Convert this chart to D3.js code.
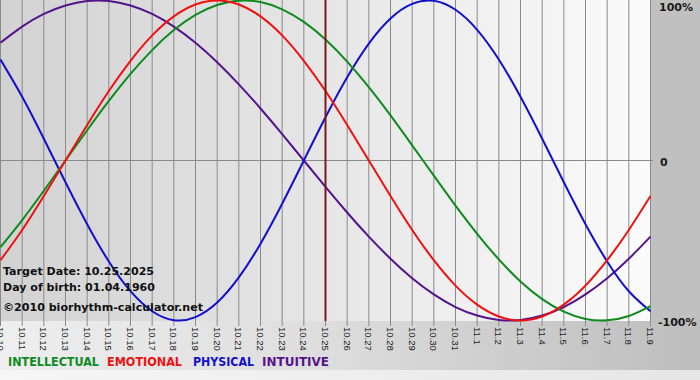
<!DOCTYPE html>
<html>
<head>
<meta charset="utf-8">
<script src="https://cdn.jsdelivr.net/npm/d3@7"></script>
<style>
html,body{margin:0;padding:0;background:#fff;}
svg{display:block;}
</style>
</head>
<body>
<svg id="chart" width="700" height="380"></svg>
<script>
// ---- data ----
const days = ["10.10","10.11","10.12","10.13","10.14","10.15","10.16","10.17","10.18","10.19","10.20","10.21","10.22","10.23","10.24","10.25","10.26","10.27","10.28","10.29","10.30","10.31","11.1","11.2","11.3","11.4","11.5","11.6","11.7","11.8","11.9"];
const intellectual = [-54.1,-37.2,-18.9,0,18.9,37.2,54.1,69.0,81.5,91.0,97.2,99.9,99.0,94.5,86.6,75.6,61.8,45.8,28.2,9.5,-9.5,-28.2,-45.8,-61.8,-75.6,-86.6,-94.5,-99.0,-99.9,-97.2,-91.0];
const emotional = [-62.3,-43.4,-22.2,0,22.2,43.4,62.3,78.2,90.1,97.5,100,97.5,90.1,78.2,62.3,43.4,22.2,0,-22.2,-43.4,-62.3,-78.2,-90.1,-97.5,-100,-97.5,-90.1,-78.2,-62.3,-43.4,-22.2];
const physical = [63.1,39.8,13.6,-13.6,-39.8,-63.1,-81.7,-94.2,-99.8,-97.9,-88.8,-73.1,-52.0,-27.0,0,27.0,52.0,73.1,88.8,97.9,99.8,94.2,81.7,63.1,39.8,13.6,-13.6,-39.8,-63.1,-81.7,-94.2];
const intuitive = [73.6,83.7,91.6,96.9,99.7,99.7,96.9,91.6,83.7,73.6,61.4,47.6,32.5,16.5,0,-16.5,-32.5,-47.6,-61.4,-73.6,-83.7,-91.6,-96.9,-99.7,-99.7,-96.9,-91.6,-83.7,-73.6,-61.4,-47.6];
const yTicks = [100, 0, -100];
const yTickLabels = ["100%", "0", "-100%"];
const targetDay = "10.25";
const infoLines = ["Target Date: 10.25.2025", "Day of birth: 01.04.1960", "©2010 biorhythm-calculator.net"];
const seriesNames = ["INTELLECTUAL", "EMOTIONAL", "PHYSICAL", "INTUITIVE"];

// ---- drawing ----
const svg = d3.select("#chart");
const W = 700, H = 380;
const plotL = 0, plotR = 651, plotT = 0, plotB = 321;
const colors = {INTELLECTUAL:"#0e8a1e", EMOTIONAL:"#ee1111", PHYSICAL:"#1111cc", INTUITIVE:"#55148c"};
const seriesData = {INTELLECTUAL:intellectual, EMOTIONAL:emotional, PHYSICAL:physical, INTUITIVE:intuitive};

const x = d3.scalePoint().domain(days).range([0.5, 650.5]);
const y = d3.scaleLinear().domain([-100, 100]).range([320.5, 0.5]);

const defs = svg.append("defs");
const g1 = defs.append("linearGradient").attr("id","plotbg").attr("x1","0").attr("x2","1").attr("y1","0").attr("y2","0");
g1.append("stop").attr("offset","0").attr("stop-color","#d2d2d2");
g1.append("stop").attr("offset","1").attr("stop-color","#fbfbfb");
const g2 = defs.append("linearGradient").attr("id","botbg").attr("x1","0").attr("x2","1").attr("y1","0").attr("y2","0");
g2.append("stop").attr("offset","0").attr("stop-color","#eeeeee");
g2.append("stop").attr("offset","0.45").attr("stop-color","#dedede");
g2.append("stop").attr("offset","1").attr("stop-color","#bdbdbd");
const g3 = defs.append("linearGradient").attr("id","btm2").attr("x1","0").attr("x2","1").attr("y1","0").attr("y2","0");
g3.append("stop").attr("offset","0").attr("stop-color","#f6f6f6");
g3.append("stop").attr("offset","1").attr("stop-color","#e6e6e6");
defs.append("clipPath").attr("id","clip").append("rect")
  .attr("x", plotL).attr("y", plotT).attr("width", plotR - plotL).attr("height", plotB - plotT + 1);

// backgrounds
svg.append("rect").attr("x",0).attr("y",0).attr("width",W).attr("height",H).attr("fill","#c0c0c0");
svg.append("rect").attr("x",0).attr("y",plotB).attr("width",W).attr("height",370-plotB).attr("fill","url(#botbg)");
svg.append("rect").attr("x",0).attr("y",370).attr("width",W).attr("height",H-370).attr("fill","url(#btm2)");
svg.append("rect").attr("x",plotL).attr("y",plotT).attr("width",plotR-plotL).attr("height",plotB-plotT).attr("fill","url(#plotbg)");

// vertical gridlines + ticks
const grid = svg.append("g");
grid.selectAll("line.v").data(days).join("line")
  .attr("x1", d => x(d)).attr("x2", d => x(d))
  .attr("y1", plotT).attr("y2", plotB + 5)
  .attr("stroke", "#8a8a8a").attr("stroke-width", 1);
// zero line
grid.append("line").attr("x1", plotL).attr("x2", plotR + 2)
  .attr("y1", y(0)).attr("y2", y(0)).attr("stroke", "#8a8a8a").attr("stroke-width", 1);

// curves
const line = d3.line().x((d, i) => x(days[i])).y(d => y(d)).curve(d3.curveNatural);
const curves = svg.append("g").attr("clip-path", "url(#clip)");
["INTUITIVE","PHYSICAL","INTELLECTUAL","EMOTIONAL"].forEach(name => {
  curves.append("path").datum(seriesData[name])
    .attr("d", line).attr("fill", "none")
    .attr("stroke", colors[name]).attr("stroke-width", 2)
    .attr("stroke-linejoin","round");
});

// target line
svg.append("line").attr("x1", x(targetDay)).attr("x2", x(targetDay))
  .attr("y1", plotT).attr("y2", plotB)
  .attr("stroke", "#7a1a1a").attr("stroke-width", 2);

// x tick labels (rotated)
svg.append("g").selectAll("text").data(days).join("text")
  .attr("transform", d => `translate(${x(d) - 3.5},327) rotate(90)`)
  .attr("font-family", "Liberation Sans, Arial, sans-serif")
  .attr("font-size", 9.5)
  .attr("fill", "#222")
  .text(d => d);

// y labels
svg.append("g").selectAll("text").data(yTicks).join("text")
  .attr("x", (d, i) => d === 0 ? 660 : (d > 0 ? 659 : 658))
  .attr("y", d => d === 100 ? 10.5 : (d === 0 ? 165.5 : 326))
  .attr("font-family", "DejaVu Sans, Verdana, sans-serif")
  .attr("font-weight", "bold")
  .attr("font-size", 11)
  .attr("fill", "#1a1a1a")
  .text((d, i) => yTickLabels[i]);

// info text
const infoY = [275, 291, 311];
const infoW = [151, 152, 200];
svg.append("g").selectAll("text").data(infoLines).join("text")
  .attr("x", 3).attr("y", (d, i) => infoY[i])
  .attr("font-family", "DejaVu Sans, Verdana, sans-serif")
  .attr("font-weight", "bold").attr("font-size", 11)
  .attr("fill", "#111")
  .attr("textLength", (d, i) => infoW[i]).attr("lengthAdjust", "spacingAndGlyphs")
  .text(d => d);

// legend
const legX = [8, 107, 193, 262];
const legW = [91, 75, 61, 67];
svg.append("g").selectAll("text").data(seriesNames).join("text")
  .attr("x", (d, i) => legX[i]).attr("y", 366)
  .attr("font-family", "DejaVu Sans, Verdana, sans-serif")
  .attr("font-weight", "bold").attr("font-size", 12)
  .attr("fill", d => colors[d])
  .attr("textLength", (d, i) => legW[i]).attr("lengthAdjust", "spacingAndGlyphs")
  .text(d => d);
</script>
</body>
</html>
